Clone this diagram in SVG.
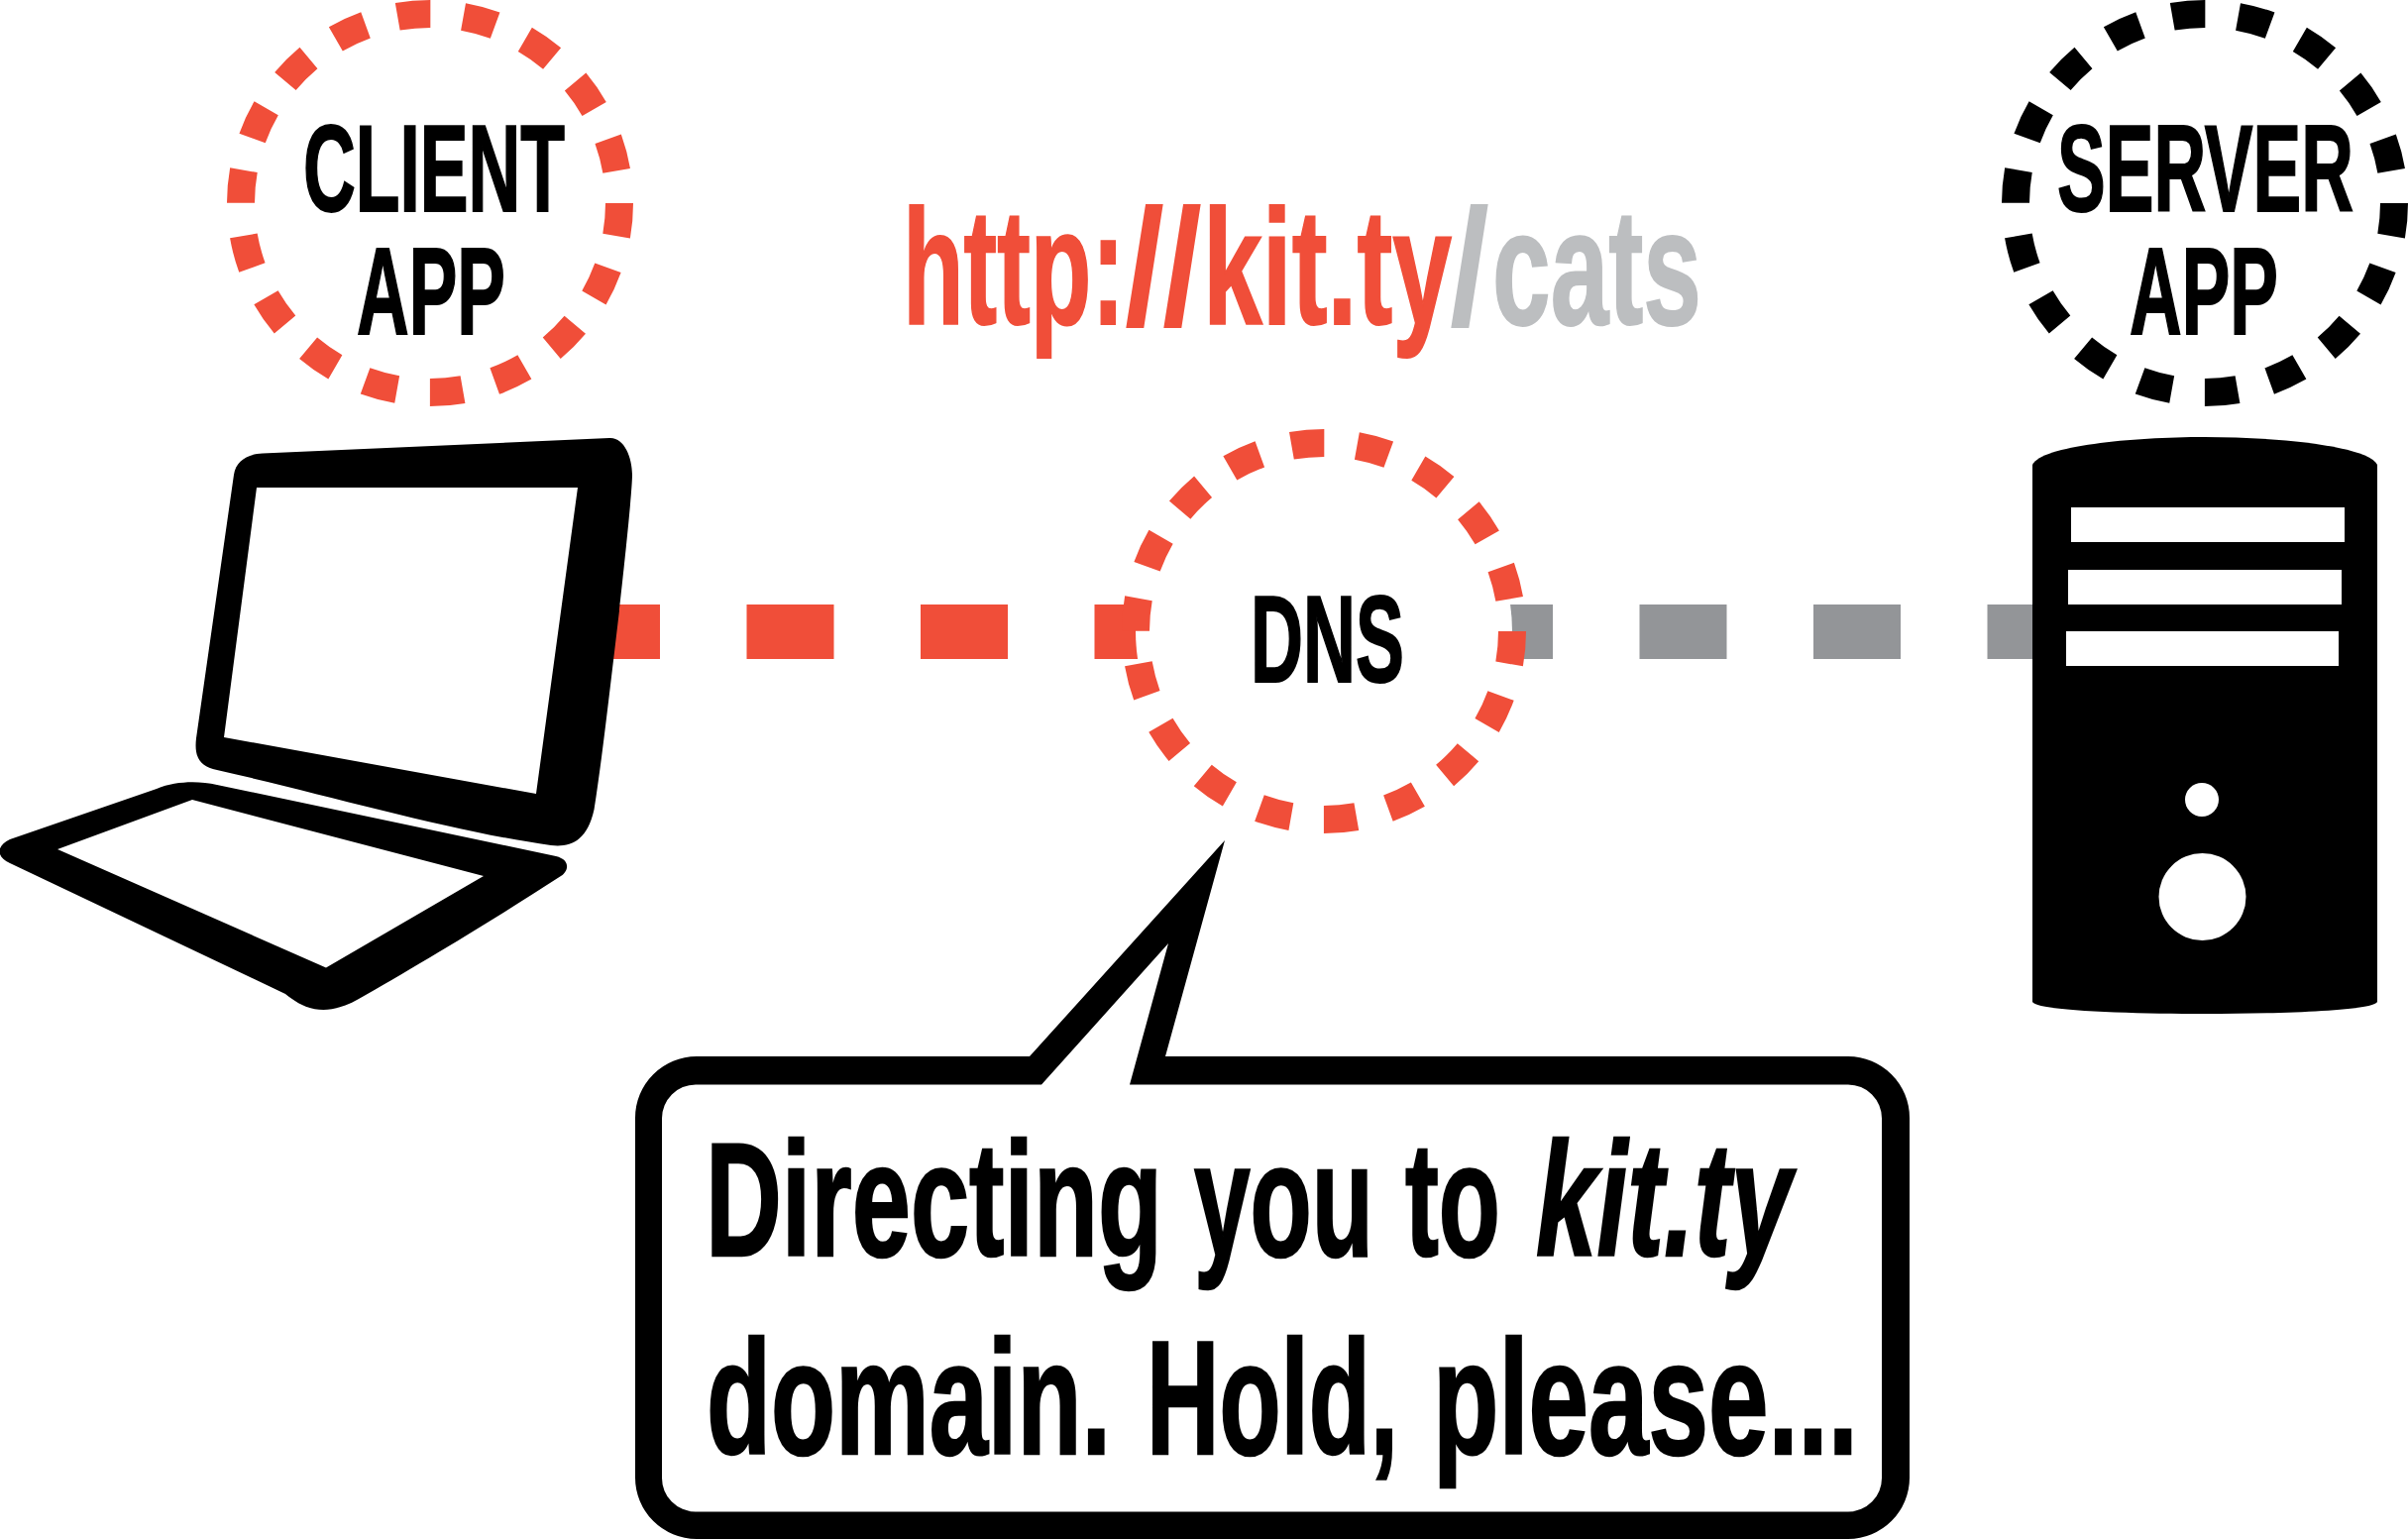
<svg xmlns="http://www.w3.org/2000/svg" width="2430" height="1553" viewBox="0 0 2430 1553">
<style>
text{font-family:"Liberation Sans Narrow","Liberation Sans",Arial,sans-serif;font-weight:700;fill:#000}
.ring{fill:#fff;stroke-width:28}
.r191{stroke-dasharray:33.3 33.372;stroke-dashoffset:-.02}
.r190{stroke-dasharray:33.1 33.223;stroke-dashoffset:-.02}
.red{stroke:#f04e39}.blk{stroke:#000}
.bar{fill:none;stroke-width:55;stroke-dasharray:88 87.5}
.ink{fill:#000;fill-rule:evenodd}
.w{fill:#fff}
.lab{font-size:124px;stroke:#000;stroke-width:2px}
.url{font-size:165px;stroke-width:2px}
.u1{fill:#f04e39;stroke:#f04e39}
.u2{fill:#bcbec0;stroke:#bcbec0}
.say{font-size:164px;stroke:#000;stroke-width:2.5px}
.it{font-style:italic}
</style>
<rect width="2430" height="1553" fill="#fff"/>
<g id="connectors">
<path class="bar" stroke="#f04e39" d="M578 637.5H1150"/>
<path class="bar" stroke="#939598" d="M1479 637.5H2060"/>
</g>
<g id="client">
<path class="ink" d="M265 457.5L615 442C630 441 638 462 638 479C638 500 625 616 625 616C615 700 607 770 599.5 817C592 850 575 855 556 853C460 840 330 802 219 777C200 773 196 762 198 745L236 479C238 465 250 458 265 457.5ZM259 492L226 744L541 801L583 492Z"/>
<path class="ink" d="M10 847L158 796C178 788 200 788 219 792L561 864C577 868 573 880 566 884C500 927 420 975 362 1008C327 1028 305 1017 288 1003L10 871C-5 864 -3 853 10 847ZM58 857L329 976.5L488 884L194 807Z"/>
<circle class="ring red r191" cx="434" cy="205" r="191"/>
<text class="lab" x="306" y="213" textLength="264" lengthAdjust="spacingAndGlyphs">CLIENT</text>
<text class="lab" x="360" y="337" textLength="150" lengthAdjust="spacingAndGlyphs">APP</text>
</g>
<g id="url">
<text class="url" y="327"><tspan class="u1" x="911" textLength="224" lengthAdjust="spacingAndGlyphs">http:</tspan><tspan class="u1" x="1136" textLength="76" lengthAdjust="spacingAndGlyphs">//</tspan><tspan class="u1" x="1214" textLength="251" lengthAdjust="spacingAndGlyphs">kit.ty</tspan><tspan class="u2" x="1464" textLength="38" lengthAdjust="spacingAndGlyphs">/</tspan><tspan class="u2" x="1506" textLength="211" lengthAdjust="spacingAndGlyphs">cats</tspan></text>
</g>
<g id="dns">
<circle class="ring red r190" cx="1336" cy="637" r="190"/>
<text class="lab" x="1262" y="688" textLength="155" lengthAdjust="spacingAndGlyphs">DNS</text>
</g>
<g id="server">
<path class="ink" d="M2051 469C2060 450 2150 441 2225 441C2300 441 2390 450 2399 469V1011C2395 1020 2300 1023 2225 1023C2150 1023 2055 1020 2051 1011Z"/>
<rect class="w" x="2090" y="512" width="276" height="35"/>
<rect class="w" x="2087" y="575" width="276" height="35"/>
<rect class="w" x="2085" y="637" width="275" height="35"/>
<circle class="w" cx="2222" cy="807" r="17"/>
<circle class="w" cx="2222.5" cy="905" r="44"/>
<circle class="ring blk r191" cx="2225" cy="205" r="191"/>
<text class="lab" x="2076" y="213" textLength="299" lengthAdjust="spacingAndGlyphs">SERVER</text>
<text class="lab" x="2149" y="337" textLength="150" lengthAdjust="spacingAndGlyphs">APP</text>
</g>
<g id="callout">
<path class="ink" d="M703 1066H1039L1236 848L1176 1066H1865A62 62 0 0 1 1927 1128V1491A62 62 0 0 1 1865 1553H703A62 62 0 0 1 641 1491V1128A62 62 0 0 1 703 1066ZM702 1094.5A34 34 0 0 0 668 1128.5V1491A34 34 0 0 0 702 1525.5H1865A34 34 0 0 0 1899 1491V1128.5A34 34 0 0 0 1865 1094.5H1140L1179 952L1051 1094.5Z"/>
<text class="say" y="1267"><tspan x="712" textLength="461" lengthAdjust="spacingAndGlyphs">Directing</tspan><tspan x="1205" textLength="181" lengthAdjust="spacingAndGlyphs">you</tspan><tspan x="1418" textLength="96" lengthAdjust="spacingAndGlyphs">to</tspan><tspan class="it" x="1550" textLength="258" lengthAdjust="spacingAndGlyphs">kit.ty</tspan></text>
<text class="say" y="1467"><tspan x="713" textLength="408" lengthAdjust="spacingAndGlyphs">domain.</tspan><tspan x="1157" textLength="254" lengthAdjust="spacingAndGlyphs">Hold,</tspan><tspan x="1446" textLength="429" lengthAdjust="spacingAndGlyphs">please...</tspan></text>
</g>
</svg>
